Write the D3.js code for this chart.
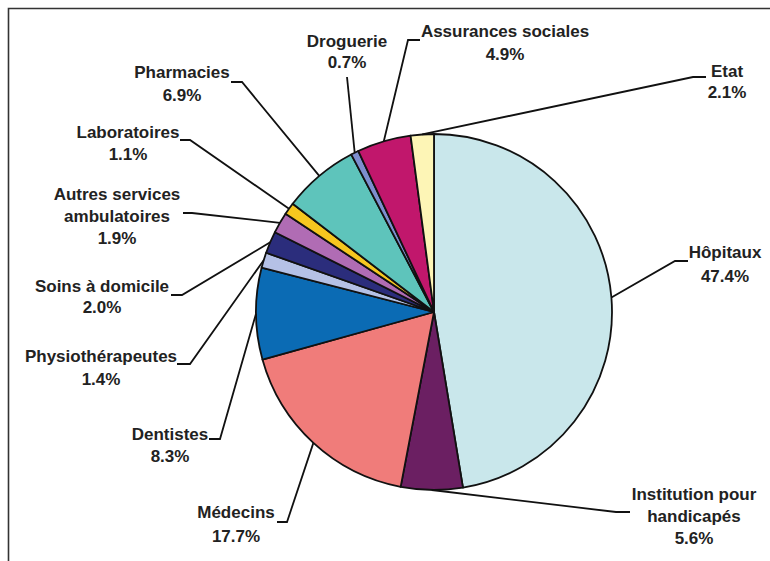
<!DOCTYPE html>
<html>
<head>
<meta charset="utf-8">
<script src="https://cdn.jsdelivr.net/npm/d3@7"></script>
<style>
  html, body { margin: 0; padding: 0; background: #fff; }
  svg { display: block; }
  text { font-family: "Liberation Sans", Arial, sans-serif; font-weight: bold; fill: #222; }
</style>
</head>
<body>
<svg id="chart" width="770" height="561"></svg>
<script>
// Répartition des dépenses de santé par fournisseur (%)
const categories = [
  "Hôpitaux", "Institution pour handicapés", "Médecins", "Dentistes",
  "Physiothérapeutes", "Soins à domicile", "Autres services ambulatoires",
  "Laboratoires", "Pharmacies", "Droguerie", "Assurances sociales", "Etat"
];
const values = [47.4, 5.6, 17.7, 8.3, 1.4, 2.0, 1.9, 1.1, 6.9, 0.7, 4.9, 2.1];
const valueLabels = ["47.4%", "5.6%", "17.7%", "8.3%", "1.4%", "2.0%", "1.9%", "1.1%", "6.9%", "0.7%", "4.9%", "2.1%"];
// category names broken over lines
const nameLines = [
  ["Hôpitaux"], ["Institution pour", "handicapés"], ["Médecins"], ["Dentistes"],
  ["Physiothérapeutes"], ["Soins à domicile"], ["Autres services", "ambulatoires"],
  ["Laboratoires"], ["Pharmacies"], ["Droguerie"], ["Assurances sociales"], ["Etat"]
];
const colors = [
  "#c9e7eb", "#6b1f62", "#f07c7a", "#0b6bb4", "#b5c1e6", "#2b2d7c",
  "#b06cb4", "#f6c71f", "#5ec4bb", "#7d8ecf", "#c1176c", "#fdf5b6"
];

// layout: label centre x, first baseline y, line step; leader elbow and end points
const labelPos = [
  {x: 725, y: 258, step: 24},
  {x: 694, y: 500, step: 22},
  {x: 236, y: 518, step: 24},
  {x: 170, y: 440, step: 22},
  {x: 101, y: 362, step: 23},
  {x: 102, y: 292, step: 21},
  {x: 117, y: 200, step: 22},
  {x: 128, y: 138, step: 22},
  {x: 182, y: 78, step: 23},
  {x: 347, y: 47, step: 21},
  {x: 505, y: 37, step: 23},
  {x: 727, y: 77, step: 21}
];
const leaderPts = [
  [[675, 261], [688, 261]],
  [[616, 512], [630, 512]],
  [[287, 522], [277, 522]],
  [[220, 439], [209, 439]],
  [[190, 364], [177, 364]],
  [[182, 295], [171, 295]],
  [[192, 213], [183, 213]],
  [[190, 140], [180, 140]],
  [[242, 82], [231, 82]],
  [[347, 77]],
  [[408, 40], [420, 40]],
  [[693, 77], [706, 77]]
];

const svg = d3.select("#chart");
const cx = 434, cy = 312, r = 178;

// frame
svg.append("path")
  .attr("d", "M8.5,561 L8.5,8.5 L770,8.5")
  .attr("fill", "none").attr("stroke", "#333").attr("stroke-width", 1.6);

const pie = d3.pie().sort(null).value(d => d)(values);
const arc = d3.arc().innerRadius(0).outerRadius(r);
const edge = d3.arc().innerRadius(r).outerRadius(r);

const g = svg.append("g").attr("transform", `translate(${cx},${cy})`);

g.selectAll("path.slice")
  .data(pie)
  .join("path")
  .attr("class", "slice")
  .attr("d", arc)
  .attr("fill", (d, i) => colors[i])
  .attr("stroke", "#111")
  .attr("stroke-width", 1.8)
  .attr("stroke-linejoin", "round");

// leader lines
const line = d3.line();
svg.selectAll("path.leader")
  .data(pie)
  .join("path")
  .attr("class", "leader")
  .attr("d", (d, i) => {
    const c = edge.centroid(d);
    return line([[cx + c[0], cy + c[1]], ...leaderPts[i]]);
  })
  .attr("fill", "none")
  .attr("stroke", "#111")
  .attr("stroke-width", 1.8);

// labels
const lab = svg.selectAll("text.lab")
  .data(categories)
  .join("text")
  .attr("class", "lab")
  .attr("text-anchor", "middle")
  .attr("font-size", 17)
  .attr("x", (d, i) => labelPos[i].x)
  .attr("y", (d, i) => labelPos[i].y);

lab.each(function(d, i) {
  const t = d3.select(this);
  const lines = nameLines[i].concat([valueLabels[i]]);
  lines.forEach((s, k) => {
    t.append("tspan")
      .attr("x", labelPos[i].x)
      .attr("y", labelPos[i].y + k * labelPos[i].step)
      .text(s);
  });
});
</script>
</body>
</html>
